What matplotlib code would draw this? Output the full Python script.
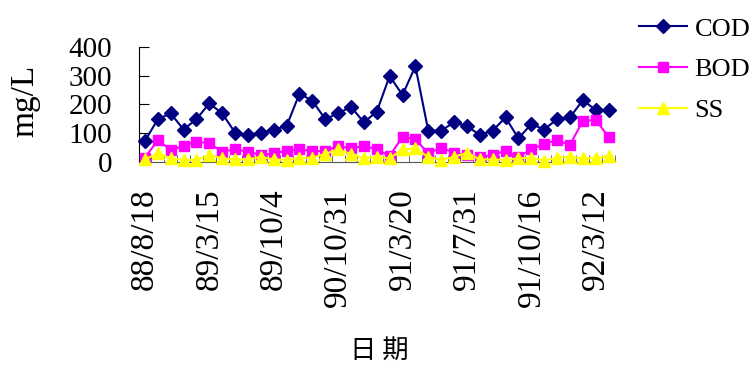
import numpy as np
import matplotlib.pyplot as plt
from matplotlib.ticker import FixedLocator

plt.rcParams['font.family'] = ['Liberation Serif', 'DejaVu Serif']

cod = [73, 149, 169, 113, 149, 204, 169, 102, 94, 102, 113, 125, 238, 213, 149,
       169, 192, 138, 175, 299, 233, 333, 109, 109, 138, 125, 94, 109, 155, 82,
       132, 113, 149, 155, 215, 181, 181]
bod = [15, 76, 42, 56, 71, 65, 36, 44, 36, 24, 30, 39, 44, 38, 38, 56, 47, 56, 44,
       21, 88, 79, 30, 50, 32, 24, 18, 24, 39, 18, 44, 63, 76, 59, 143, 146, 88]
ss = [9, 30, 13, 7, 7, 24, 13, 9, 9, 18, 9, 7, 15, 15, 28, 44, 28, 13, 18, 13,
      44, 47, 18, 7, 18, 32, 9, 9, 7, 13, 15, 5, 15, 18, 13, 13, 21]
tick_idx = [0, 5, 10, 15, 20, 25, 30, 35]
tick_labels = ['88/8/18', '89/3/15', '89/10/4', '90/10/31', '91/3/20',
               '91/7/31', '91/10/16', '92/3/12']

x = np.arange(len(cod))
W, H = 753, 365

fig = plt.figure(figsize=(W / 100, H / 100), dpi=100)
ax = fig.add_axes([138.5 / W, 1 - 162 / H, 476.5 / W, 115 / H])

ax.plot(x, cod, color='#000080', marker='D', markersize=7, lw=1.5,
        label='COD', clip_on=False, zorder=3)
ax.plot(x, bod, color='#FF00FF', marker='s', markersize=7, lw=1.5,
        label='BOD', clip_on=False, zorder=4)
ax.plot(x, ss, color='#FFFF00', marker='^', markersize=8, lw=1.5,
        label='SS', clip_on=False, zorder=5)

ax.set_xlim(-0.5, len(cod) - 0.5)
ax.set_ylim(0, 400)
ax.set_yticks([0, 100, 200, 300, 400])
ax.tick_params(axis='y', direction='in', length=7, pad=19, labelsize=21)
ax.set_xticks(tick_idx)
ax.set_xticklabels(tick_labels, rotation=90, fontsize=24)
# category boundaries get the small tick marks
ax.xaxis.set_minor_locator(FixedLocator(np.arange(-0.5, len(cod), 1)))
ax.tick_params(axis='x', which='major', length=0, pad=19)
ax.tick_params(axis='x', which='minor', direction='in', length=5, color='#555555')

for s in ['top', 'right']:
    ax.spines[s].set_visible(False)
ax.spines['bottom'].set_color('#555555')

fig.text(25 / W, 1 - 101 / H, 'mg/L', rotation=90, fontsize=24,
         ha='center', va='center')
fig.text(379 / W, 1 - 350 / H, '日 期', fontsize=19,
         family=['Noto Sans CJK TC', 'DejaVu Sans'], ha='center', va='center')

ax.legend(loc='upper left', bbox_to_anchor=(626 / W, 1 - 4 / H),
          bbox_transform=fig.transFigure, frameon=False, borderpad=0,
          fontsize=19, handlelength=1.8, labelspacing=0.65, handletextpad=0.3)

fig.savefig('out.png', dpi=100)
